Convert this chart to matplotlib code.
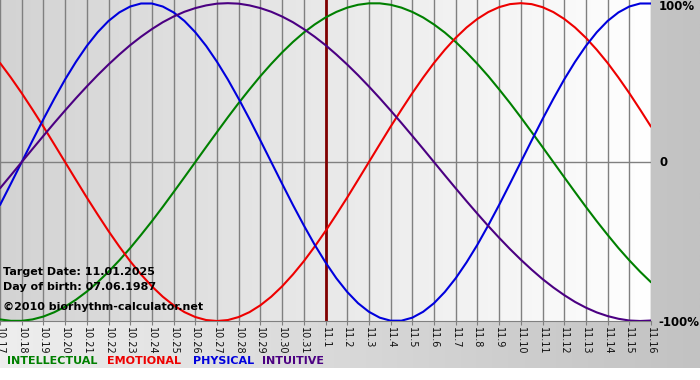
import numpy as np
from matplotlib import pyplot as plt
from matplotlib.colors import LinearSegmentedColormap

# days shown on the x axis (month.day)
day_labels = ["10.17", "10.18", "10.19", "10.20", "10.21", "10.22", "10.23", "10.24",
              "10.25", "10.26", "10.27", "10.28", "10.29", "10.30", "10.31",
              "11.1", "11.2", "11.3", "11.4", "11.5", "11.6", "11.7", "11.8",
              "11.9", "11.10", "11.11", "11.12", "11.13", "11.14", "11.15", "11.16"]
target_day = "11.1"

# cycle values, read every half day from 10.17 to 11.16, -1 .. 1
physical = [-0.270, -0.136, 0.000, 0.136, 0.270, 0.398, 0.520, 0.631, 0.731, 0.817,
            0.888, 0.942, 0.979, 0.998, 0.998, 0.979, 0.942, 0.888, 0.817, 0.731,
            0.631, 0.520, 0.398, 0.270, 0.136, 0.000, -0.136, -0.270, -0.398, -0.520,
            -0.631, -0.731, -0.817, -0.888, -0.942, -0.979, -0.998, -0.998, -0.979, -0.942,
            -0.888, -0.817, -0.731, -0.631, -0.520, -0.398, -0.270, -0.136, 0.000, 0.136,
            0.270, 0.398, 0.520, 0.631, 0.731, 0.817, 0.888, 0.942, 0.979, 0.998, 0.998]
emotional = [0.624, 0.532, 0.434, 0.330, 0.223, 0.112, 0.000, -0.112, -0.223, -0.330,
             -0.434, -0.532, -0.624, -0.707, -0.782, -0.847, -0.901, -0.944, -0.975, -0.994,
             -1.000, -0.994, -0.975, -0.944, -0.901, -0.847, -0.782, -0.707, -0.624, -0.532,
             -0.434, -0.330, -0.223, -0.112, 0.000, 0.112, 0.223, 0.330, 0.434, 0.532,
             0.624, 0.707, 0.782, 0.847, 0.901, 0.944, 0.975, 0.994, 1.000, 0.994,
             0.975, 0.944, 0.901, 0.847, 0.782, 0.707, 0.624, 0.532, 0.434, 0.330, 0.223]
intellectual = [-0.990, -0.999, -0.999, -0.990, -0.972, -0.945, -0.910, -0.866, -0.815, -0.756,
                -0.690, -0.618, -0.541, -0.458, -0.372, -0.282, -0.189, -0.095, 0.000, 0.095,
                0.189, 0.282, 0.372, 0.458, 0.541, 0.618, 0.690, 0.756, 0.815, 0.866,
                0.910, 0.945, 0.972, 0.990, 0.999, 0.999, 0.990, 0.972, 0.945, 0.910,
                0.866, 0.815, 0.756, 0.690, 0.618, 0.541, 0.458, 0.372, 0.282, 0.189,
                0.095, 0.000, -0.095, -0.189, -0.282, -0.372, -0.458, -0.541, -0.618, -0.690, -0.756]
intuitive = [-0.165, -0.083, 0.000, 0.083, 0.165, 0.246, 0.325, 0.402, 0.476, 0.547,
             0.614, 0.677, 0.736, 0.789, 0.837, 0.880, 0.916, 0.946, 0.969, 0.986,
             0.997, 1.000, 0.997, 0.986, 0.969, 0.946, 0.916, 0.880, 0.837, 0.789,
             0.736, 0.677, 0.614, 0.547, 0.476, 0.402, 0.325, 0.246, 0.165, 0.083,
             0.000, -0.083, -0.165, -0.246, -0.325, -0.402, -0.476, -0.547, -0.614, -0.677,
             -0.736, -0.789, -0.837, -0.880, -0.916, -0.946, -0.969, -0.986, -0.997, -1.000, -0.997]

names = ["INTELLECTUAL", "EMOTIONAL", "PHYSICAL", "INTUITIVE"]
colors = ["#008000", "#ee0000", "#0000dd", "#4b0082"]

fig = plt.figure(figsize=(7, 3.8), dpi=100, facecolor="white")

# background of the whole picture: light to grey from left to right
bg = fig.add_axes([0, 12 / 380, 1, 368 / 380])
bg.axis("off")
bg_cmap = LinearSegmentedColormap.from_list("bg", ["#eeeeee", "#c2c2c2"])
bg.imshow(np.linspace(0, 1, 256).reshape(1, -1), cmap=bg_cmap, aspect="auto",
          extent=[0, 1, 0, 1], transform=bg.transAxes)

ax = fig.add_axes([0, 59 / 380, 651 / 700, 321 / 380])
plot_cmap = LinearSegmentedColormap.from_list("plot", ["#d3d3d3", "#ffffff"])
ax.imshow(np.linspace(0, 1, 256).reshape(1, -1), cmap=plot_cmap, aspect="auto",
          extent=[0, 1, 0, 1], transform=ax.transAxes, zorder=0)

x = np.arange(len(day_labels))
for xi in x:
    ax.axvline(xi, color="#808080", lw=1.0, zorder=1)
ax.axhline(0, color="#808080", lw=1.0, zorder=1)
ax.axvline(day_labels.index(target_day), color="#800000", lw=2.0, zorder=2)

# half-day steps
t = np.arange(len(physical)) * 0.5
series = [intellectual, emotional, physical, intuitive]
for vals, c in zip(series, colors):
    ax.plot(t, vals, color=c, lw=1.5, zorder=3, solid_capstyle="round")

ax.set_xlim(0, len(day_labels) - 1)
ax.set_ylim(-1.0, 1.02)
ax.set_xticks(x)
ax.set_xticklabels(day_labels, rotation=270, fontsize=7, color="#111111")
ax.tick_params(axis="x", length=3, color="#808080", pad=1)
ax.set_yticks([])
for side in ["top", "left", "right"]:
    ax.spines[side].set_visible(False)
ax.spines["bottom"].set_color("#808080")

# percentage labels on the right
fs = 8
fig.text(659 / 700, 1 - 7 / 380, "100%", fontsize=8.5, fontweight="bold", va="center", ha="left")
fig.text(660 / 700, 1 - 162 / 380, "0", fontsize=8.5, fontweight="bold", va="center", ha="left")
fig.text(658 / 700, 1 - 322 / 380, "-100%", fontsize=8.5, fontweight="bold", va="center", ha="left")

# info text
ax.text(0.004, 1 - 272 / 321, "Target Date: 11.01.2025", transform=ax.transAxes,
        fontsize=fs, fontweight="bold", va="center", zorder=4)
ax.text(0.004, 1 - 287 / 321, "Day of birth: 07.06.1987", transform=ax.transAxes,
        fontsize=fs, fontweight="bold", va="center", zorder=4)
ax.text(0.004, 1 - 307 / 321, "\u00a92010 biorhythm-calculator.net", transform=ax.transAxes,
        fontsize=fs, fontweight="bold", va="center", zorder=4)

# legend row
lx = [7, 107, 193, 262]
for name, c, px in zip(names, colors, lx):
    fig.text(px / 700, 1 - 361 / 380, name, fontsize=8, fontweight="bold", color=c, va="center")

plt.savefig("out.png", dpi=100)
